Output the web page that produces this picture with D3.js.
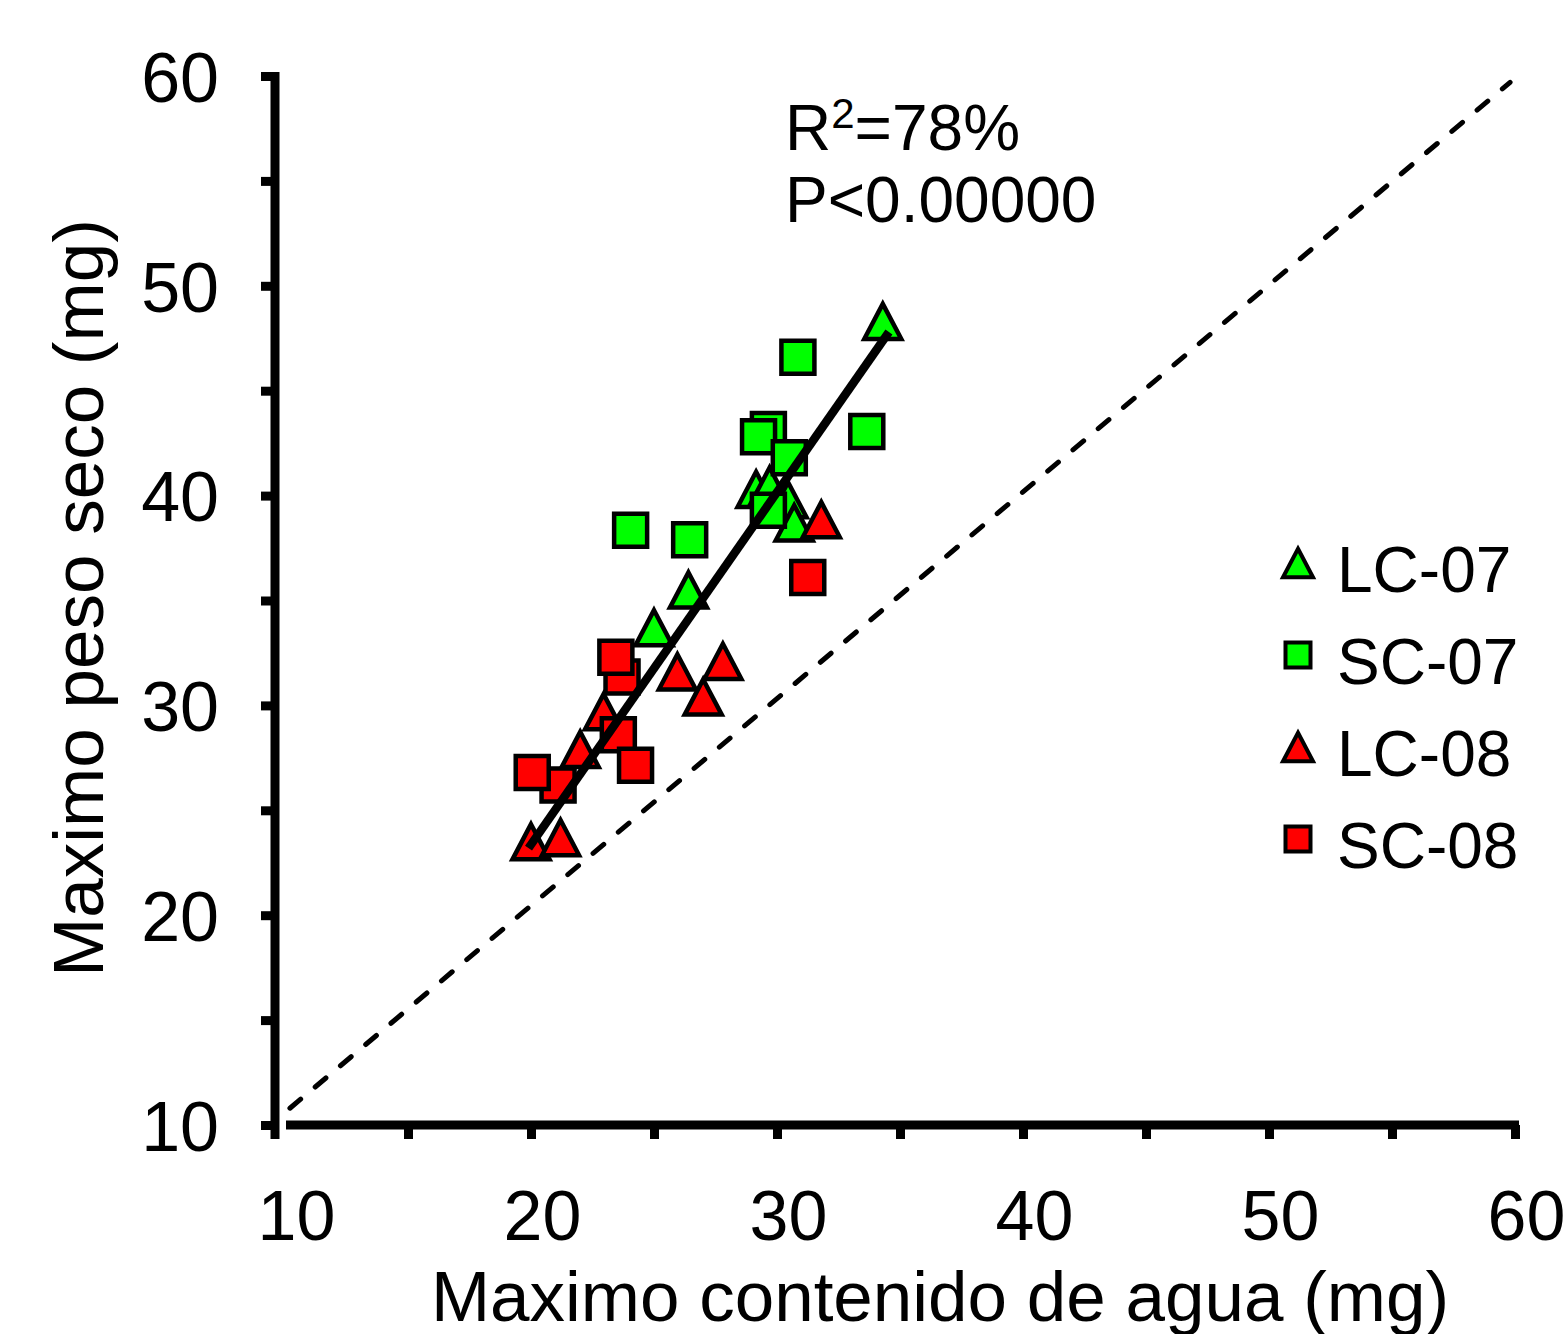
<!DOCTYPE html>
<html>
<head>
<meta charset="utf-8">
<script src="https://cdn.jsdelivr.net/npm/d3@7"></script>
<style>
	body { margin: 0; background: #fff; }
	svg { display: block; font-family: "Liberation Sans", Arial, sans-serif; }
</style>
</head>
<body>
<svg id="chart"></svg>
<script>
// values: [agua, peso seco]
const lc07 = [[34.3, 48.3], [29.15, 40.3], [29.7, 40.5], [30.45, 39.8], [30.7, 38.7], [26.4, 35.5], [25.0, 33.7]];
const sc07 = [[30.85, 46.6], [33.65, 43.05], [29.65, 43.15], [29.25, 42.8], [30.5, 41.8], [29.65, 39.3], [24.05, 38.35], [26.45, 37.9]];
const lc08 = [[31.8, 38.85], [25.95, 31.6], [27.8, 32.1], [27.0, 30.4], [22.95, 29.7], [22.0, 27.9], [20.0, 23.5], [21.2, 23.7]];
const sc08 = [[31.25, 36.1], [23.7, 31.35], [23.45, 32.3], [23.55, 28.6], [24.25, 27.15], [21.1, 26.2], [20.05, 26.8]];

const fitX = [19.9, 34.55];
const fitY = [23.2, 47.8];
const refX = [10.2, 59.8];
const refY = [10.8, 59.7];

const xTickValues = [10, 15, 20, 25, 30, 35, 40, 45, 50, 55, 60];
const xTickLabels = [10, 20, 30, 40, 50, 60];
const yTickValues = [10, 15, 20, 25, 30, 35, 40, 45, 50, 55, 60];
const yTickLabels = [10, 20, 30, 40, 50, 60];

const seriesNames = ["LC-07", "SC-07", "LC-08", "SC-08"];
const seriesShapes = ["triangle", "square", "triangle", "square"];
const seriesColors = ["#00ff00", "#00ff00", "#ff0000", "#ff0000"];
const seriesData = [lc07, sc07, lc08, sc08];

const W = 1563, H = 1334;
const svg = d3.select("#chart").attr("width", W).attr("height", H);

const x = d3.scaleLinear().domain([10, 60]).range([285, 1515]);
const y = d3.scaleLinear().domain([10, 60]).range([1125, 76]);

const yAxisX = 275;

// y axis
const gy = svg.append("g").attr("transform", `translate(${yAxisX},0)`);
gy.call(d3.axisLeft(y).tickValues(yTickValues).tickSize(14).tickSizeOuter(0).tickFormat(""));
gy.select(".domain").remove();
gy.selectAll(".tick line").attr("stroke", "#000").attr("stroke-width", 9);
gy.append("line")
	.attr("x1", 0).attr("x2", 0)
	.attr("y1", y(60) - 4).attr("y2", y(10) + 14)
	.attr("stroke", "#000").attr("stroke-width", 9);

const gyl = svg.append("g").attr("transform", `translate(${yAxisX},0)`);
gyl.call(d3.axisLeft(y).tickValues(yTickLabels).tickSize(0).tickPadding(56).tickFormat(d3.format("d")));
gyl.select(".domain").remove();
gyl.selectAll("text").attr("font-size", 70).attr("fill", "#000").attr("dy", "0.36em")
	.attr("font-family", "Liberation Sans, Arial, sans-serif");

// x axis
const gx = svg.append("g").attr("transform", `translate(0,${y(10)})`);
gx.call(d3.axisBottom(x).tickValues(xTickValues.filter(v => v > 10)).tickSize(14).tickSizeOuter(0).tickFormat(""));
gx.select(".domain").remove();
gx.selectAll(".tick line").attr("stroke", "#000").attr("stroke-width", 9);
gx.append("line")
	.attr("x1", x(10) + 1).attr("x2", x(60) + 4)
	.attr("y1", 0).attr("y2", 0)
	.attr("stroke", "#000").attr("stroke-width", 9);

const gxl = svg.append("g").attr("transform", `translate(0,${y(10)})`);
gxl.call(d3.axisBottom(x).tickValues(xTickLabels).tickSize(0).tickPadding(65).tickFormat(d3.format("d")));
gxl.select(".domain").remove();
gxl.selectAll("text").attr("font-size", 70).attr("fill", "#000").attr("dx", 11)
	.attr("font-family", "Liberation Sans, Arial, sans-serif");

// axis titles
svg.append("text")
	.attr("x", 940).attr("y", 1321)
	.attr("text-anchor", "middle")
	.attr("font-size", 71)
	.text("Maximo contenido de agua (mg)");

svg.append("text")
	.attr("transform", "translate(103,598) rotate(-90)")
	.attr("text-anchor", "middle")
	.attr("font-size", 71)
	.text("Maximo peso seco (mg)");

// 1:1 reference line
svg.append("line")
	.attr("x1", x(refX[0])).attr("y1", y(refY[0]))
	.attr("x2", x(refX[1])).attr("y2", y(refY[1]))
	.attr("stroke", "#000").attr("stroke-width", 5)
	.attr("stroke-linecap", "round")
	.attr("stroke-dasharray", "14,19");

function shapePath(shape, s) {
	if (shape === "triangle") {
		const w = s * 0.5, h = s * 0.95;
		return `M0,${-h / 2}L${w},${h / 2}L${-w},${h / 2}Z`;
	}
	return `M${-s / 2},${-s / 2}h${s}v${s}h${-s}Z`;
}

// markers
seriesData.forEach((data, i) => {
	const size = seriesShapes[i] === "triangle" ? 37 : 33;
	svg.append("g").selectAll("path")
		.data(data)
		.enter().append("path")
		.attr("transform", d => `translate(${x(d[0])},${y(d[1])})`)
		.attr("d", shapePath(seriesShapes[i], size))
		.attr("fill", seriesColors[i])
		.attr("stroke", "#000")
		.attr("stroke-width", 4.5)
		.attr("stroke-linejoin", "miter");
});

// regression line
svg.append("line")
	.attr("x1", x(fitX[0])).attr("y1", y(fitY[0]))
	.attr("x2", x(fitX[1])).attr("y2", y(fitY[1]))
	.attr("stroke", "#000").attr("stroke-width", 8.5);

// annotation
const ann = svg.append("text").attr("x", 785).attr("y", 150).attr("font-size", 64);
ann.append("tspan").text("R");
ann.append("tspan").attr("font-size", 42).attr("dy", -22).text("2");
ann.append("tspan").attr("dy", 22).text("=78%");
svg.append("text").attr("x", 785).attr("y", 222).attr("font-size", 64).text("P<0.00000");

// legend
const legend = svg.append("g").selectAll("g")
	.data(seriesNames)
	.enter().append("g")
	.attr("transform", (d, i) => `translate(1298,${563 + i * 92})`);

legend.append("path")
	.attr("d", (d, i) => shapePath(seriesShapes[i], seriesShapes[i] === "triangle" ? 30 : 25))
	.attr("fill", (d, i) => seriesColors[i])
	.attr("stroke", "#000")
	.attr("stroke-width", 4);

legend.append("text")
	.attr("x", 39)
	.attr("y", 29)
	.attr("font-size", 64)
	.text(d => d);
</script>
</body>
</html>
